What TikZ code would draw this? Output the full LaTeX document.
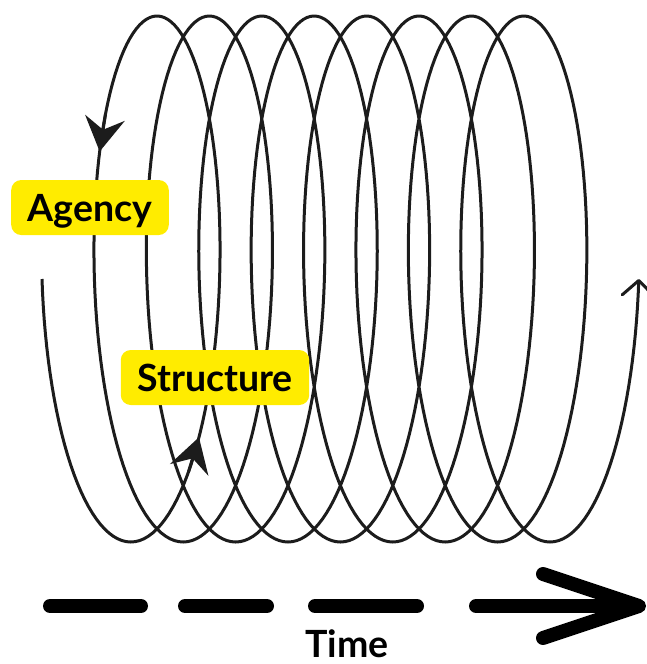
\documentclass[tikz,border=0pt]{standalone}
\usepackage{fontspec}
\setmainfont{Lato}
\usetikzlibrary{arrows.meta, positioning}
\definecolor{tagyellow}{HTML}{FFEC00}
\definecolor{coilgray}{HTML}{1C1C1C}
\tikzstyle{coil} = [line width=3pt, draw=coilgray, line join=round]
\tikzstyle{tag} = [rectangle, rounded corners=10pt, fill=tagyellow, inner xsep=16.5pt, inner ysep=0pt, text height=41pt, text depth=14pt, font=\fontsize{37.5}{40}\selectfont\bfseries]
\tikzstyle{midarrow} = [coil, -{Stealth[length=34pt, width=40pt, inset=12pt]}]
\tikzstyle{endarrow} = [-{Straight Barb[length=15pt, width=32pt, round]}]
\tikzstyle{timeline} = [line width=14pt, line cap=round, dash pattern=on 91pt off 44pt on 82pt off 48pt on 102pt off 59pt on 400pt, -{Straight Barb[length=96pt, width=64pt, round]}]
\tikzstyle{timelabel} = [anchor=base, inner sep=0pt, font=\fontsize{37.5}{40}\selectfont\bfseries]
\newcommand{\coilx}[1]{117.7+0.14556*(#1)-75.7*cos(#1)}
\newcommand{\coily}[1]{279+263*sin(#1)}

\begin{document}
\begin{tikzpicture}[x=1pt, y=-1pt]
    \useasboundingbox (0,0) rectangle (646,664);
    % the coil, 8 and a half turns
    \draw [coil, endarrow] plot[domain=0:3060, samples=1021] ({\coilx{\x}},{\coily{\x}});
    \coordinate (a0) at ({\coilx{321}},{\coily{321}});
    \coordinate (a1) at ({\coilx{331}},{\coily{331}});
    \coordinate (s0) at ({\coilx{133}},{\coily{133}});
    \coordinate (s1) at ({\coilx{143}},{\coily{143}});
    \draw [midarrow] (a0) -- (a1);
    \draw [midarrow] (s0) -- (s1);

    \node (agency) [tag] at (90,207.5) {Agency};
    \node (structure) [tag, node distance=170pt, below of=agency, xshift=125pt] {Structure};

    % time axis
    \coordinate (t0) at (50,606);
    \coordinate (t1) at (646,606);
    \draw [timeline] (t0) -- (t1);
    \node (time) [timelabel] at (347,657) {Time};
\end{tikzpicture}
\end{document}
